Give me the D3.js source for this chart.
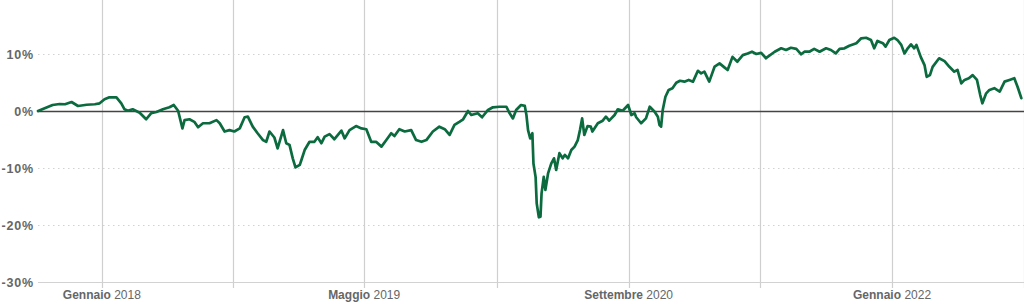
<!DOCTYPE html>
<html><head><meta charset="utf-8">
<script src="https://cdn.jsdelivr.net/npm/d3@7"></script>
<style>body{margin:0;background:#fff}svg{display:block}</style>
</head><body><svg id="c" width="1024" height="306"></svg>
<script>
const dates = [
"2017-09-05","2017-09-14","2017-10-02","2017-10-15","2017-10-25","2017-11-06","2017-11-18","2017-12-04","2017-12-19","2017-12-28",
"2018-01-06","2018-01-15","2018-01-28","2018-02-06","2018-02-12","2018-02-18","2018-02-27","2018-03-12","2018-03-24","2018-04-02",
"2018-04-12","2018-04-24","2018-05-06","2018-05-14","2018-05-22","2018-05-30","2018-06-03","2018-06-12","2018-06-21","2018-06-28",
"2018-07-07","2018-07-19","2018-08-01","2018-08-07","2018-08-16","2018-08-25","2018-09-03","2018-09-13","2018-09-22","2018-09-28",
"2018-10-07","2018-10-16","2018-10-26","2018-11-01","2018-11-07","2018-11-16","2018-11-22","2018-12-02","2018-12-08","2018-12-14",
"2018-12-20","2018-12-25","2019-01-02","2019-01-05","2019-01-11","2019-01-20","2019-01-29","2019-02-04","2019-02-11","2019-02-17",
"2019-02-26","2019-03-07","2019-03-20","2019-03-26","2019-04-04","2019-04-16","2019-04-26","2019-05-05","2019-05-14","2019-05-23",
"2019-06-02","2019-06-11","2019-06-20","2019-06-26","2019-07-05","2019-07-15","2019-07-27","2019-08-05","2019-08-15","2019-08-24",
"2019-09-05","2019-09-17","2019-09-27","2019-10-06","2019-10-15","2019-10-24","2019-10-31","2019-11-09","2019-11-15","2019-11-27",
"2019-12-05","2019-12-16","2019-12-25","2020-01-06","2020-01-19","2020-01-25","2020-01-31","2020-02-06","2020-02-15","2020-02-22",
"2020-02-25","2020-02-28","2020-03-03","2020-03-07","2020-03-09","2020-03-13","2020-03-15","2020-03-19","2020-03-22","2020-03-24",
"2020-03-28","2020-03-31","2020-04-05","2020-04-11","2020-04-16","2020-04-20","2020-04-26","2020-05-02","2020-05-06","2020-05-12",
"2020-05-18","2020-05-24","2020-05-30","2020-06-03","2020-06-07","2020-06-11","2020-06-17","2020-06-23","2020-06-26","2020-07-06",
"2020-07-15","2020-07-21","2020-07-27","2020-08-06","2020-08-12","2020-08-21","2020-08-31","2020-09-06","2020-09-12","2020-09-15",
"2020-09-24","2020-10-03","2020-10-10","2020-10-19","2020-10-25","2020-10-28","2020-10-31","2020-11-03","2020-11-08","2020-11-14",
"2020-11-21","2020-11-28","2020-12-05","2020-12-13","2020-12-21","2020-12-29","2021-01-07","2021-01-13","2021-01-19","2021-01-28",
"2021-02-07","2021-02-16","2021-02-25","2021-03-03","2021-03-12","2021-03-21","2021-03-31","2021-04-09","2021-04-17","2021-04-25",
"2021-05-04","2021-05-13","2021-05-16","2021-05-29","2021-06-10","2021-06-19","2021-06-28","2021-07-08","2021-07-17","2021-07-23",
"2021-08-01","2021-08-10","2021-08-20","2021-09-01","2021-09-10","2021-09-19","2021-09-26","2021-10-05","2021-10-14","2021-10-27",
"2021-11-05","2021-11-14","2021-11-23","2021-11-29","2021-12-05","2021-12-15","2021-12-20","2021-12-27","2022-01-05","2022-01-11",
"2022-01-18","2022-01-24","2022-01-30","2022-02-05","2022-02-11","2022-02-15","2022-02-23","2022-03-02","2022-03-06","2022-03-12",
"2022-03-17","2022-03-29","2022-04-08","2022-04-17","2022-04-26","2022-05-02","2022-05-09","2022-05-15","2022-05-23","2022-05-30",
"2022-06-07","2022-06-13","2022-06-17","2022-06-24","2022-06-30","2022-07-09","2022-07-19","2022-07-28","2022-08-06","2022-08-15",
"2022-08-21","2022-08-28"
];
const values = [
0.0,0.35,1.05,1.23,1.18,1.58,0.88,1.1,1.18,1.35,
2.05,2.4,2.4,1.35,0.3,0.05,0.3,-0.3,-1.45,-0.4,
-0.18,0.3,0.65,1.05,0.05,-3.05,-1.6,-1.45,-1.9,-2.85,
-2.15,-2.15,-1.6,-2.15,-3.6,-3.35,-3.6,-3.05,-1.1,-1.0,
-2.75,-3.9,-5.1,-5.4,-3.6,-4.65,-6.55,-3.35,-5.65,-5.95,
-8.3,-9.9,-9.45,-8.6,-6.85,-5.4,-5.4,-4.6,-5.65,-4.5,
-4.05,-4.95,-3.45,-4.8,-3.35,-2.65,-3.05,-3.2,-5.4,-5.4,
-6.25,-5.1,-3.9,-4.4,-3.2,-3.6,-3.35,-5.1,-5.4,-5.1,
-3.6,-2.75,-3.2,-4.2,-2.45,-1.9,-1.45,0.0,-0.7,-0.4,
-1.1,0.18,0.65,0.75,0.75,-0.4,-1.3,0.18,1.05,0.9,
-0.7,-3.35,-4.8,-3.9,-9.2,-11.6,-16.2,-18.65,-18.55,-14.45,
-11.55,-13.85,-10.95,-9.2,-8.3,-10.35,-7.4,-8.3,-7.7,-8.3,
-6.85,-6.25,-5.1,-3.35,-1.3,-4.2,-2.65,-2.75,-3.6,-2.15,
-1.7,-1.0,-1.7,-0.7,0.3,0.05,1.05,-0.7,-0.4,-1.1,
-2.15,-1.3,0.75,-0.12,-1.0,-2.45,-2.75,0.18,2.5,3.7,
4.0,4.95,5.3,5.15,5.45,5.15,7.05,6.6,6.9,5.15,
7.8,8.35,7.65,7.2,9.5,8.65,9.8,10.1,10.4,10.0,
10.2,9.25,9.5,10.4,11.0,10.7,11.1,10.9,9.95,10.4,
10.4,10.9,10.4,11.0,10.7,10.1,10.9,11.0,11.45,11.9,
12.75,12.85,12.45,11.0,12.3,11.9,11.3,12.45,12.85,12.45,
11.6,10.1,11.0,11.7,11.0,11.6,9.5,8.05,6.0,6.3,
7.75,9.25,8.75,7.75,6.9,7.2,4.85,5.45,5.75,6.3,
5.45,2.8,1.35,3.1,3.7,4.0,3.4,5.15,5.45,5.75,
4.25,2.25
];
const yTicks = [10, 0, -10, -20, -30];
const gridDates = ["2018-01-01","2018-09-01","2019-05-01","2020-01-01","2020-09-01","2021-05-01","2022-01-01","2022-09-01"];
const labelDates = ["2018-01-01","2019-05-01","2020-09-01","2022-01-01"];
const labelMonths = ["Gennaio","Maggio","Settembre","Gennaio"];
const labelYears = ["2018","2019","2020","2022"];

const parse = d3.timeParse("%Y-%m-%d");
const svg = d3.select("#c");
const x = d3.scaleTime().domain([parse("2017-09-05"), parse("2022-09-01")]).range([38, 1023.5]);
const y = d3.scaleLinear().domain([-30, 10]).range([282, 54]);
const font = "'Liberation Sans', Arial, sans-serif";

svg.append("g").selectAll("line").data(gridDates).join("line")
  .attr("x1", d => Math.round(x(parse(d))) + 0.5).attr("x2", d => Math.round(x(parse(d))) + 0.5)
  .attr("y1", 0).attr("y2", 288)
  .attr("stroke", "#cfcfcf").attr("stroke-width", 1.2);

svg.append("g").selectAll("line").data(yTicks).join("line")
  .attr("x1", 38).attr("x2", 1024)
  .attr("y1", d => Math.round(y(d)) + 0.5).attr("y2", d => Math.round(y(d)) + 0.5)
  .attr("stroke", d => d === 0 ? "#444" : "#d2d2d2")
  .attr("stroke-width", d => d === 0 ? 1.6 : 1.2)
  .attr("stroke-dasharray", d => (d === 0 || d === -30) ? null : "1.5,3.5");

svg.append("g").selectAll("text").data(yTicks).join("text")
  .attr("x", 34).attr("y", d => y(d) + 5)
  .attr("text-anchor", "end")
  .attr("font-family", font).attr("font-size", 12.5).attr("font-weight", "bold")
  .attr("letter-spacing", "0.8px")
  .attr("fill", "#666")
  .text(d => d + "%");

const xl = svg.append("g").selectAll("text").data(labelDates).join("text")
  .attr("x", d => x(parse(d))).attr("y", 298.5)
  .attr("text-anchor", "middle")
  .attr("font-family", font).attr("font-size", 12).attr("fill", "#666");
xl.append("tspan").attr("font-weight", "bold").text((d, i) => labelMonths[i]);
xl.append("tspan").text((d, i) => " " + labelYears[i]);

const line = d3.line().x((d, i) => x(parse(dates[i]))).y(d => y(d)).curve(d3.curveLinear);
svg.append("path").datum(values)
  .attr("d", line)
  .attr("fill", "none").attr("stroke", "#0b6b3f").attr("stroke-width", 2.7)
  .attr("stroke-linejoin", "round").attr("stroke-linecap", "round");
</script></body></html>
